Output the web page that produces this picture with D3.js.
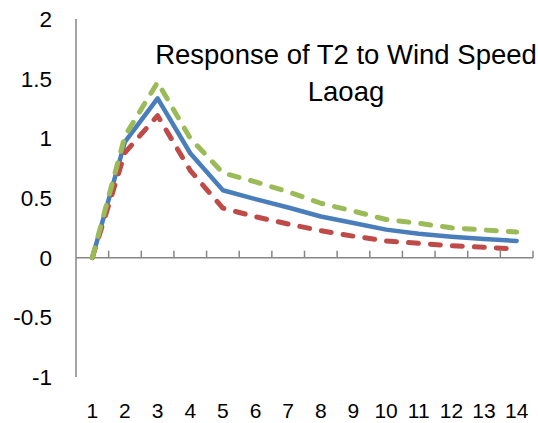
<!DOCTYPE html>
<html>
<head>
<meta charset="utf-8">
<script src="https://cdn.jsdelivr.net/npm/d3@7/dist/d3.min.js"></script>
<style>
  html, body { margin: 0; padding: 0; background: #fff; }
  svg { display: block; font-family: "Liberation Sans", Arial, sans-serif; }
</style>
</head>
<body>
<svg id="chart" width="538" height="423"></svg>
<script>
const categories = [1, 2, 3, 4, 5, 6, 7, 8, 9, 10, 11, 12, 13, 14];
const responseValues = [0, 0.97, 1.335, 0.875, 0.565, 0.49, 0.42, 0.345, 0.29, 0.235, 0.2, 0.176, 0.156, 0.14];
const upperValues = [0, 1.02, 1.47, 1.0, 0.71, 0.635, 0.552, 0.456, 0.39, 0.32, 0.288, 0.25, 0.232, 0.215];
const lowerValues = [0, 0.88, 1.19, 0.73, 0.415, 0.343, 0.282, 0.226, 0.18, 0.14, 0.12, 0.10, 0.087, 0.073];
const yTicks = [-1, -0.5, 0, 0.5, 1, 1.5, 2];
const yTickLabels = ["-1", "-0.5", "0", "0.5", "1", "1.5", "2"];
const titleLines = ["Response of T2 to Wind Speed", "Laoag"];

const svg = d3.select("#chart");
const x = d3.scaleBand().domain(categories).range([76, 533]).padding(0);
const y = d3.scaleLinear().domain([-1, 2]).range([377, 19]);
const axisColor = "#868686";

// y axis line
svg.append("line")
  .attr("x1", 76).attr("x2", 76)
  .attr("y1", y(2)).attr("y2", y(-1))
  .attr("stroke", axisColor).attr("stroke-width", 1.5);

// y labels
svg.append("g").selectAll("text").data(yTicks).join("text")
  .attr("x", 52).attr("y", d => y(d)).attr("dy", "0.36em")
  .attr("text-anchor", "end")
  .attr("font-size", 22.5).attr("fill", "#000")
  .text((d, i) => yTickLabels[i]);

// x axis line with inward ticks at band boundaries
const x0 = y(0);
svg.append("line")
  .attr("x1", 76).attr("x2", 533)
  .attr("y1", x0).attr("y2", x0)
  .attr("stroke", axisColor).attr("stroke-width", 1.5);
const boundaries = categories.map(c => x(c) + x.bandwidth());
svg.append("g").selectAll("line").data(boundaries).join("line")
  .attr("x1", d => d).attr("x2", d => d)
  .attr("y1", x0).attr("y2", x0 - 7)
  .attr("stroke", axisColor).attr("stroke-width", 1.5);

// x labels
svg.append("g").selectAll("text").data(categories).join("text")
  .attr("x", d => x(d) + x.bandwidth() / 2).attr("y", 418)
  .attr("text-anchor", "middle")
  .attr("font-size", 21).attr("fill", "#000")
  .text(d => d);

// lines
const line = d3.line()
  .x((d, i) => x(categories[i]) + x.bandwidth() / 2)
  .y(d => y(d));

svg.append("path").datum(responseValues)
  .attr("d", line).attr("fill", "none")
  .attr("stroke", "#4A7EBB").attr("stroke-width", 4.5)
  .attr("stroke-linejoin", "round").attr("stroke-linecap", "round");

svg.append("path").datum(lowerValues)
  .attr("d", line).attr("fill", "none")
  .attr("stroke", "#BE4B48").attr("stroke-width", 5)
  .attr("stroke-dasharray", "10,12")
  .attr("stroke-linejoin", "round").attr("stroke-linecap", "round");

svg.append("path").datum(upperValues)
  .attr("d", line).attr("fill", "none")
  .attr("stroke", "#9BBB59").attr("stroke-width", 5)
  .attr("stroke-dasharray", "10,12")
  .attr("stroke-linejoin", "round").attr("stroke-linecap", "round");

// title
svg.append("g").selectAll("text").data(titleLines).join("text")
  .attr("x", 346).attr("y", (d, i) => 64 + i * 37)
  .attr("text-anchor", "middle")
  .attr("font-size", 27.5).attr("fill", "#000")
  .text(d => d);
</script>
</body>
</html>
